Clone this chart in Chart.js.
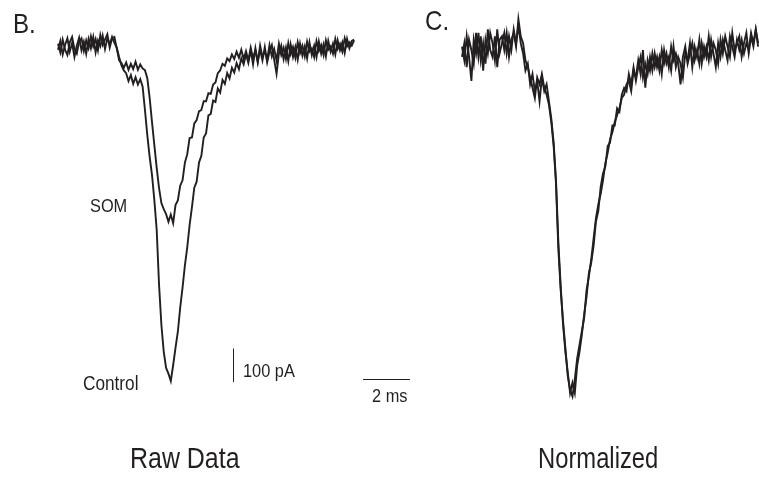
<!DOCTYPE html>
<html>
<head>
<meta charset="utf-8">
<script src="https://cdn.jsdelivr.net/npm/chart.js@4.4.0/dist/chart.umd.min.js"></script>
<style>
  html, body { margin: 0; padding: 0; background: #fff; }
  #page { position: relative; width: 759px; height: 477px; overflow: hidden; }
  .panel { position: absolute; top: 0; height: 477px; }
  #panelB { left: 0; width: 420px; }
  #panelC { left: 420px; width: 339px; }
</style>
</head>
<body>
<div id="page">
  <div class="panel" id="panelB"><canvas id="rawChart"></canvas></div>
  <div class="panel" id="panelC"><canvas id="normChart"></canvas></div>
</div>
<script>
// one sample every 0.1 ms, traces start at t = 0
const SAMPLE_MS = 0.1;

// B. raw currents (pA)
const rawControl = [
  -8, 18, -22, 6, 26, -14, 12, -30, 4, 28, -10, 16, -20, 24, -4, 30, -16, 20, 2, 34, -6, 26, 8, 30, 12, -2,
  -30, -55, -70, -78, -102, -84, -110, -90, -112, -96, -118, -188, -263, -328, -382, -457, -546, -710,
  -830, -910, -958, -975, -997, -950, -898, -850, -778, -718, -652, -598, -532, -478, -420, -402, -345,
  -325, -270, -258, -204, -200, -160, -164, -124, -136, -98, -110, -78, -94, -62, -76, -48, -66, -34,
  -52, -22, -48, -10, -52, -4, -44, -8, -40, 0, -46, -14, 6, -38, -80, -20, 4, -36, -2, -42, 8, -30, 0,
  -38, 10, -26, 2, -34, 14, -24, 4, -30, 16, -20, 8, -28, 18, -14, 10, -22, 20, -10, 14, -18, 24, -4,
  18, 22
];
const rawSOM = [
  10, -16, 22, -8, -24, 14, 30, -6, -20, 16, 26, -12, 20, -4, 32, 2, 24, -10, 36, 6, 22, 38, -2, 26, 30, -4,
  -40, -48, -62, -46, -68, -50, -66, -44, -68, -52, -64, -69, -93, -152, -224, -293, -361, -421, -466,
  -484, -499, -522, -500, -526, -472, -458, -414, -398, -345, -320, -272, -270, -228, -218, -192, -188,
  -162, -162, -138, -140, -112, -106, -78, -70, -50, -56, -34, -42, -22, -36, -14, -32, -8, -36, -12,
  -40, -2, -34, -10, -46, 4, -30, -12, -38, 6, -28, -6, -40, 10, -24, -2, -36, 12, -22, 0, -32, 14, -18,
  4, -28, 16, -14, -4, -30, 18, -12, 6, -24, 20, -8, 2, -20, 24, -6, 10, -14, 26, 2, 14, 4, 20
];

// C. normalized to peak
const normControl = [
  0.01, -0.03, 0.04, -0.02, -0.09, 0.03, -0.01, 0.05, -0.03, 0.02, -0.04, 0.06, 0.0, -0.02, 0.04, -0.05,
  0.03, 0.04, 0.0, 0.05, -0.02, 0.03, 0.05, 0.01, 0.09, 0.04, 0.02, -0.03, -0.05, -0.08, -0.11, -0.14,
  -0.08, -0.10, -0.07, -0.11, -0.13, -0.16, -0.21, -0.28, -0.39, -0.58, -0.70, -0.79, -0.87, -0.95, -0.99,
  -1.01, -0.96, -0.90, -0.86, -0.82, -0.78, -0.70, -0.66, -0.61, -0.55, -0.49, -0.45, -0.42, -0.38, -0.33,
  -0.30, -0.26, -0.24, -0.21, -0.19, -0.17, -0.14, -0.13, -0.10, -0.09, -0.12, -0.06, -0.08, -0.03, -0.07,
  0.0, -0.11, -0.03, -0.06, -0.01, -0.05, -0.02, -0.06, 0.0, -0.04, -0.01, -0.05, 0.01, -0.03, -0.01,
  -0.04, -0.10, -0.02, 0.01, -0.04, -0.01, 0.02, -0.03, 0.0, -0.04, 0.02, -0.02, 0.01, -0.03, 0.03, -0.01,
  -0.05, 0.02, -0.02, 0.03, 0.0, -0.03, 0.04, 0.01, -0.02, 0.03, 0.0, 0.03, -0.01, 0.02, 0.0, 0.05, 0.02,
  0.06, 0.01
];
const normSOM = [
  -0.02, 0.02, -0.05, 0.03, 0.0, -0.04, 0.05, -0.02, 0.04, -0.06, 0.03, -0.01, 0.05, 0.02, -0.03, 0.06,
  -0.01, 0.02, 0.05, -0.01, 0.04, 0.0, 0.06, 0.02, 0.07, 0.02, -0.01, -0.06, -0.04, -0.10, -0.07, -0.12,
  -0.09, -0.15, -0.08, -0.12, -0.10, -0.15, -0.20, -0.27, -0.38, -0.56, -0.69, -0.80, -0.88, -0.94, -1.00,
  -0.97, -1.00, -0.92, -0.88, -0.83, -0.77, -0.72, -0.65, -0.62, -0.57, -0.50, -0.47, -0.40, -0.36, -0.34,
  -0.28, -0.27, -0.22, -0.22, -0.17, -0.18, -0.13, -0.11, -0.12, -0.07, -0.10, -0.05, -0.09, -0.05, -0.02,
  -0.08, -0.04, -0.07, -0.02, -0.06, -0.01, -0.05, -0.02, -0.07, 0.0, -0.04, -0.02, -0.06, 0.01, -0.05,
  -0.02, -0.04, -0.08, -0.01, -0.03, 0.02, -0.05, 0.01, -0.02, 0.03, -0.04, 0.01, -0.02, 0.04, -0.02, 0.02,
  0.0, -0.04, 0.03, -0.01, 0.04, 0.01, -0.02, 0.05, 0.0, 0.02, 0.04, -0.02, 0.02, 0.05, -0.01, 0.04, 0.01,
  0.06, 0.02
];

// scale bars
const barTimeMs = 2;
const barCurrentPA = 100;

const INK = '#231f20';
const FONT = '"Liberation Sans", Arial, sans-serif';

function toPoints(values) {
  return values.map((v, i) => ({ x: +(i * SAMPLE_MS).toFixed(2), y: v }));
}

function trace(values) {
  return {
    data: toPoints(values),
    borderColor: INK,
    borderWidth: 1.9,
    pointRadius: 0,
    tension: 0,
    fill: false
  };
}

function drawLabel(ctx, text, x, y, size, squeeze) {
  ctx.save();
  ctx.translate(x, y);
  ctx.scale(squeeze || 0.86, 1);
  ctx.font = size + 'px ' + FONT;
  ctx.fillStyle = INK;
  ctx.textBaseline = 'alphabetic';
  ctx.fillText(text, 0, 0);
  ctx.restore();
}

const rawLabels = {
  id: 'rawLabels',
  afterDraw(chart) {
    const ctx = chart.ctx;
    const xs = chart.scales.x;
    const ys = chart.scales.y;

    // 100 pA vertical bar
    const vx = Math.round(xs.getPixelForValue(7.45)) + 0.5;
    ctx.save();
    ctx.strokeStyle = INK;
    ctx.lineWidth = 1;
    ctx.beginPath();
    ctx.moveTo(vx, ys.getPixelForValue(-900));
    ctx.lineTo(vx, ys.getPixelForValue(-900 - barCurrentPA));
    ctx.stroke();

    // 2 ms horizontal bar
    const hy = Math.round(ys.getPixelForValue(-991)) + 0.5;
    ctx.beginPath();
    ctx.moveTo(xs.getPixelForValue(12.98), hy);
    ctx.lineTo(xs.getPixelForValue(12.98 + barTimeMs), hy);
    ctx.stroke();
    ctx.restore();

    drawLabel(ctx, 'B.', 13, 33, 28);
    drawLabel(ctx, 'SOM', 90, 212, 19);
    drawLabel(ctx, 'Control', 83, 390, 20);
    drawLabel(ctx, barCurrentPA + ' pA', 243, 377, 19);
    drawLabel(ctx, barTimeMs + ' ms', 372, 402, 19);
    drawLabel(ctx, 'Raw Data', 130, 468, 29);
  }
};

const normLabels = {
  id: 'normLabels',
  afterDraw(chart) {
    const ctx = chart.ctx;
    drawLabel(ctx, 'C.', 5, 30, 28);
    drawLabel(ctx, 'Normalized', 118, 468, 29, 0.82);
  }
};

function makeChart(canvasId, datasets, xRange, yRange, plugin) {
  return new Chart(document.getElementById(canvasId), {
    type: 'line',
    data: { datasets },
    options: {
      responsive: true,
      maintainAspectRatio: false,
      animation: false,
      layout: { padding: 0 },
      plugins: { legend: { display: false }, tooltip: { enabled: false } },
      scales: {
        x: { type: 'linear', display: false, min: xRange[0], max: xRange[1] },
        y: { type: 'linear', display: false, min: yRange[0], max: yRange[1] }
      }
    },
    plugins: [plugin]
  });
}

// 23.5 px per ms, 0.335 px per pA, 343 px per normalized unit
makeChart('rawChart', [trace(rawSOM), trace(rawControl)],
  [-2.468, 15.404], [-1283.6, 140.3], rawLabels);

makeChart('normChart', [trace(normSOM), trace(normControl)],
  [-1.787, 12.638], [-1.2449, 0.1458], normLabels);
</script>
</body>
</html>
